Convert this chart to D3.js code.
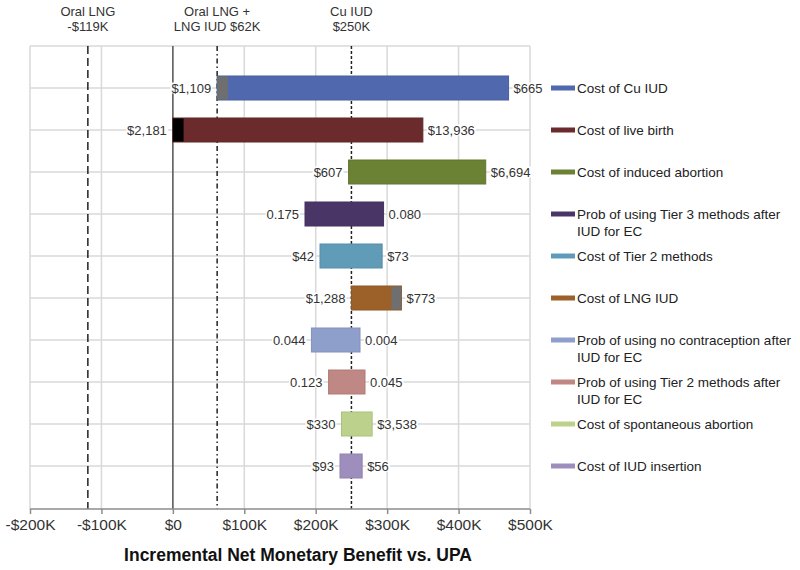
<!DOCTYPE html>
<head>
  <meta charset="utf-8">
  <script src="https://d3js.org/d3.v7.min.js"></script>
  <style>
    body {
      margin: 0;
      background: #fff;
    }

    text {
      font-family: 'Liberation Sans', Arial, sans-serif;
      fill: #333;
    }

    .grid line {
      stroke: #d9d9d9;
      stroke-width: 1.5px;
    }

    .axis .domain,
    .axis .tick line {
      stroke: #8c8c8c;
      stroke-width: 1.5px;
    }

    .axis .tick text {
      font-size: 15.5px;
      fill: #333;
    }

    .label {
      font-size: 13px;
    }

    .legend text {
      font-size: 13.5px;
      fill: #222;
    }
  </style>
</head>

<body>
  <div id="my_dataviz"></div>

  <script>
    // parameters, top to bottom
    var categories = [
      "Cost of Cu IUD",
      "Cost of live birth",
      "Cost of induced abortion",
      "Prob of using Tier 3 methods after IUD for EC",
      "Cost of Tier 2 methods",
      "Cost of LNG IUD",
      "Prob of using no contraception after IUD for EC",
      "Prob of using Tier 2 methods after IUD for EC",
      "Cost of spontaneous abortion",
      "Cost of IUD insertion"
    ];

    // bar extents, $K of net monetary benefit
    var lowValues = [62, 0, 246, 185, 206, 250, 194, 218, 236, 234];
    var highValues = [470, 350, 438, 295, 293, 320, 262, 269, 279, 265];

    var lowLabels = ["$1,109", "$2,181", "$607", "0.175", "$42", "$1,288", "0.044", "0.123", "$330", "$93"];
    var highLabels = ["$665", "$13,936", "$6,694", "0.080", "$73", "$773", "0.004", "0.045", "$3,538", "$56"];

    // short end pieces of some bars drawn in another colour
    var capRows = [0, 1, 5];
    var capFrom = [62, 0, 306];
    var capTo = [77, 15, 320];

    var xTicks = [-200, -100, 0, 100, 200, 300, 400, 500];

    // strategy reference lines
    var refValues = [-119, 62, 250];
    var refLabels = [["Oral LNG", "-$119K"], ["Oral LNG +", "LNG IUD $62K"], ["Cu IUD", "$250K"]];

    var barColors = ["#5068ae", "#6b2a2b", "#6b8134", "#4a3567", "#609bb8",
      "#9c6129", "#8f9fcb", "#bf8884", "#bcd28c", "#9e8ebd"];
    var capColors = ["#6f6f6f", "#000000", "#6f6f6f"];
    var refDash = ["8,4", "5,3,1.5,3", "3,2"];

    var width = 800,
      height = 570,
      plotTop = 46,
      plotBottom = 509;

    var svg = d3.select("#my_dataviz")
      .append("svg")
      .attr("width", width)
      .attr("height", height);

    var x = d3.scaleLinear()
      .domain([-200, 500])
      .range([30, 530]);

    var y = d3.scalePoint()
      .domain(categories)
      .range([88, 466]);

    var barH = 24;

    // grid
    var grid = svg.append("g").attr("class", "grid");

    grid.selectAll(".v")
      .data(xTicks)
      .enter()
      .append("line")
      .attr("x1", d => x(d))
      .attr("x2", d => x(d))
      .attr("y1", plotTop)
      .attr("y2", plotBottom);

    grid.selectAll(".h")
      .data(categories)
      .enter()
      .append("line")
      .attr("x1", x(-200))
      .attr("x2", x(500))
      .attr("y1", d => y(d))
      .attr("y2", d => y(d));

    grid.append("line")
      .attr("x1", x(-200))
      .attr("x2", x(500))
      .attr("y1", plotTop)
      .attr("y2", plotTop);

    // zero line
    svg.append("line")
      .attr("x1", x(0))
      .attr("x2", x(0))
      .attr("y1", plotTop)
      .attr("y2", plotBottom)
      .style("stroke", "#595959")
      .style("stroke-width", 1.5);

    // reference lines + their labels on top
    refValues.forEach((v, i) => {
      svg.append("line")
        .attr("x1", x(v))
        .attr("x2", x(v))
        .attr("y1", plotTop)
        .attr("y2", plotBottom)
        .style("stroke", "#222")
        .style("stroke-width", 1.5)
        .style("stroke-dasharray", refDash[i]);

      var t = svg.append("text")
        .attr("class", "label")
        .attr("text-anchor", "middle")
        .attr("x", x(v))
        .attr("y", 15.5);
      refLabels[i].forEach((line, j) => {
        t.append("tspan")
          .attr("x", x(v))
          .attr("dy", j ? 15 : 0)
          .text(line);
      });
    });

    // bars
    svg.append("g")
      .selectAll("rect")
      .data(categories)
      .enter()
      .append("rect")
      .attr("x", (d, i) => x(lowValues[i]))
      .attr("y", d => y(d) - barH / 2)
      .attr("width", (d, i) => x(highValues[i]) - x(lowValues[i]))
      .attr("height", barH)
      .style("fill", (d, i) => barColors[i])
      .style("stroke", (d, i) => d3.color(barColors[i]).darker(0.25))
      .style("stroke-width", 1);

    svg.append("g")
      .selectAll("rect")
      .data(capRows)
      .enter()
      .append("rect")
      .attr("x", (d, i) => x(capFrom[i]))
      .attr("y", d => y(categories[d]) - barH / 2 + 0.5)
      .attr("width", (d, i) => x(capTo[i]) - x(capFrom[i]))
      .attr("height", barH - 1)
      .style("fill", (d, i) => capColors[i]);

    // value labels with white boxes so the grid stops at them
    function addLabel(px, py, txt, anchor) {
      var g = svg.append("g");
      var bg = g.append("rect").style("fill", "#fff");
      var t = g.append("text")
        .attr("class", "label")
        .attr("x", px)
        .attr("y", py + 4.5)
        .attr("text-anchor", anchor)
        .text(txt);
      var b = t.node().getBBox();
      bg.attr("x", b.x - 1)
        .attr("y", b.y + 2)
        .attr("width", b.width + 2)
        .attr("height", b.height - 4);
    }

    categories.forEach((c, i) => {
      addLabel(x(lowValues[i]) - 6, y(c), lowLabels[i], "end");
      addLabel(x(highValues[i]) + 5, y(c), highLabels[i], "start");
    });

    // x axis
    var xAxis = svg.append("g")
      .attr("class", "axis")
      .attr("transform", `translate(0,${plotBottom})`)
      .call(d3.axisBottom(x)
        .tickValues(xTicks)
        .tickSize(5)
        .tickSizeOuter(0)
        .tickPadding(5)
        .tickFormat(d => d < 0 ? `-$${-d}K` : d === 0 ? "$0" : `$${d}K`));

    xAxis.select(".domain").attr("d", `M${x(-200)},0H${x(500)}`);

    svg.append("text")
      .attr("x", 298)
      .attr("y", 561)
      .attr("text-anchor", "middle")
      .style("font-size", "17.5px")
      .style("font-weight", "bold")
      .style("fill", "#111")
      .text("Incremental Net Monetary Benefit vs. UPA");

    // legend
    var legend = svg.append("g").attr("class", "legend");

    categories.forEach((c, i) => {
      legend.append("rect")
        .attr("x", 551)
        .attr("y", y(c) - 2.5)
        .attr("width", 24)
        .attr("height", 5)
        .style("fill", barColors[i]);

      var t = legend.append("text")
        .attr("x", 577)
        .attr("y", y(c) + 5);

      // wrap long names onto a second line
      var words = c.split(" "), line = [], lineNo = 0;
      var tspan = t.append("tspan").attr("x", 577).attr("dy", 0);
      words.forEach(w => {
        line.push(w);
        tspan.text(line.join(" "));
        if (tspan.node().getComputedTextLength() > 222 && line.length > 1) {
          line.pop();
          tspan.text(line.join(" "));
          line = [w];
          lineNo++;
          tspan = t.append("tspan").attr("x", 577).attr("dy", 16.5).text(w);
        }
      });
    });
  </script>
</body>
